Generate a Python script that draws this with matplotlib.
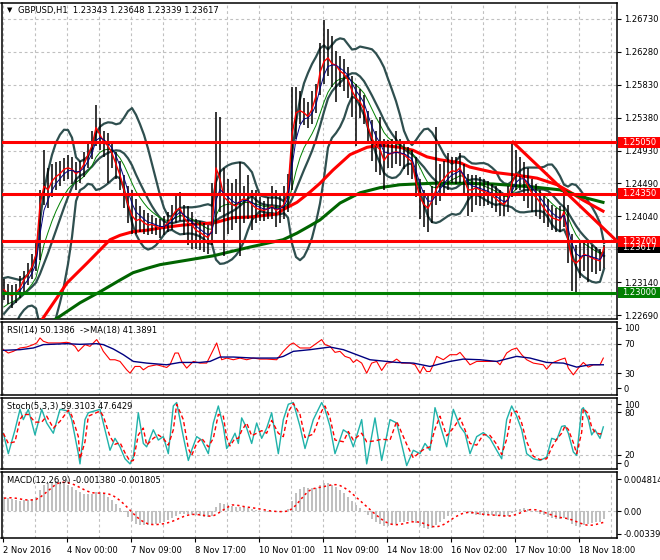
import numpy as np
import pandas as pd
import matplotlib
matplotlib.use('Agg')
import matplotlib.pyplot as plt
from matplotlib.patches import Rectangle

plt.rcParams['font.family'] = ['DejaVu Sans']

# GBPUSD, one value every 2 hours (2 Nov 16:00 .. 18 Nov 18:00)
# a few closes before the window, only used to warm up the indicators
pre_close = [1.2235, 1.2228, 1.2220, 1.2214, 1.2208, 1.2205, 1.2200, 1.2196, 1.2194, 1.2198,
             1.2202, 1.2200, 1.2208, 1.2215, 1.2224, 1.2232, 1.2240, 1.2250, 1.2258, 1.2268,
             1.2276, 1.2285, 1.2295, 1.2302]

close = [1.2304, 1.2298, 1.2296, 1.2300, 1.2306, 1.2318, 1.2325, 1.2335, 1.2352, 1.2420,
         1.2445, 1.2440, 1.2452, 1.2458, 1.2462, 1.2468, 1.2470, 1.2468, 1.2462, 1.2466,
         1.2475, 1.2488, 1.2500, 1.2525, 1.2515, 1.2505, 1.2500, 1.2490, 1.2475, 1.2460,
         1.2440, 1.2420, 1.2405, 1.2398, 1.2400, 1.2395, 1.2392, 1.2393, 1.2390, 1.2388,
         1.2390, 1.2395, 1.2403, 1.2412, 1.2415, 1.2402, 1.2395, 1.2392, 1.2385, 1.2382,
         1.2378, 1.2375, 1.2385, 1.2470, 1.2455, 1.2430, 1.2425, 1.2420, 1.2418, 1.2425,
         1.2428, 1.2425, 1.2420, 1.2415, 1.2413, 1.2412, 1.2414, 1.2418, 1.2412, 1.2415,
         1.2420, 1.2440, 1.2515, 1.2545, 1.2548, 1.2545, 1.2540, 1.2550, 1.2568, 1.2600,
         1.2615, 1.2620, 1.2612, 1.2610, 1.2602, 1.2598, 1.2590, 1.2575, 1.2565, 1.2560,
         1.2550, 1.2525, 1.2510, 1.2500, 1.2495, 1.2480, 1.2488, 1.2490, 1.2492, 1.2490,
         1.2488, 1.2483, 1.2478, 1.2450, 1.2430, 1.2420, 1.2415, 1.2425, 1.2440, 1.2450,
         1.2455, 1.2462, 1.2466, 1.2465, 1.2470, 1.2455, 1.2440, 1.2440, 1.2443, 1.2440,
         1.2438, 1.2436, 1.2432, 1.2428, 1.2423, 1.2420, 1.2428, 1.2450, 1.2462, 1.2460,
         1.2455, 1.2445, 1.2435, 1.2430, 1.2423, 1.2415, 1.2408, 1.2402, 1.2400, 1.2398,
         1.2410, 1.2370, 1.2345, 1.2340, 1.2345, 1.2352, 1.2350, 1.2347, 1.2345, 1.2343,
         1.23617]

high = [1.2318, 1.2312, 1.2310, 1.2312, 1.2322, 1.2330, 1.2340, 1.2352, 1.2372, 1.2440,
        1.2494, 1.2470, 1.2475, 1.2478, 1.2480, 1.2484, 1.2488, 1.2485, 1.2478, 1.2480,
        1.2492, 1.2505, 1.2520, 1.2556, 1.2538, 1.2520, 1.2518, 1.2505, 1.2492, 1.2480,
        1.2460, 1.2445, 1.2440, 1.2428, 1.2418, 1.2412, 1.2408, 1.2406, 1.2402, 1.2400,
        1.2405, 1.2410, 1.2420, 1.2432, 1.2437, 1.2420, 1.2418, 1.2410, 1.2400, 1.2398,
        1.2395, 1.2392, 1.2450, 1.2546, 1.2540, 1.2470, 1.2455, 1.2450, 1.2455, 1.2478,
        1.2445, 1.2460, 1.2440, 1.2440, 1.2430, 1.2425, 1.2430, 1.2445, 1.2440, 1.2432,
        1.2445, 1.2462, 1.2580, 1.2580, 1.2575, 1.2565, 1.2560, 1.2575, 1.2585, 1.2640,
        1.2672, 1.2660, 1.2650, 1.2630, 1.2622, 1.2618, 1.2608, 1.2595, 1.2585, 1.2578,
        1.2570, 1.2548, 1.2535, 1.2520, 1.2540, 1.2510, 1.2508, 1.2510, 1.2520, 1.2510,
        1.2505, 1.2498, 1.2495, 1.2485, 1.2455, 1.2440, 1.2435, 1.2445, 1.2526, 1.2475,
        1.2480, 1.2490, 1.2485, 1.2485, 1.2490, 1.2475, 1.2462, 1.2460, 1.2460, 1.2458,
        1.2455, 1.2452, 1.2448, 1.2445, 1.2440, 1.2435, 1.2445, 1.2504, 1.2495, 1.2485,
        1.2478, 1.2470, 1.2455, 1.2448, 1.2440, 1.2435, 1.2428, 1.2420, 1.2415, 1.2418,
        1.2438, 1.2420, 1.2380, 1.2365, 1.2368, 1.2372, 1.2368, 1.2365, 1.2362, 1.2360,
        1.23648]

low = [1.2290, 1.2284, 1.2279, 1.2286, 1.2292, 1.2300, 1.2310, 1.2318, 1.2330, 1.2345,
       1.2420, 1.2415, 1.2430, 1.2440, 1.2445, 1.2452, 1.2455, 1.2448, 1.2440, 1.2450,
       1.2458, 1.2470, 1.2482, 1.2500, 1.2495, 1.2485, 1.2450, 1.2470, 1.2455, 1.2440,
       1.2415, 1.2395, 1.2380, 1.2380, 1.2382, 1.2380, 1.2378, 1.2380, 1.2378, 1.2375,
       1.2378, 1.2382, 1.2385, 1.2395, 1.2398, 1.2378, 1.2365, 1.2360, 1.2360, 1.2358,
       1.2355, 1.2352, 1.2365, 1.2380, 1.2410, 1.2350, 1.2380, 1.2385, 1.2395, 1.2350,
       1.2395, 1.2400, 1.2385, 1.2395, 1.2398, 1.2398, 1.2400, 1.2400, 1.2390, 1.2395,
       1.2400, 1.2410, 1.2440, 1.2510, 1.2530, 1.2528, 1.2525, 1.2530, 1.2545, 1.2570,
       1.2585, 1.2595, 1.2580, 1.2560, 1.2580, 1.2575, 1.2565, 1.2540, 1.2500, 1.2538,
       1.2530, 1.2505, 1.2480, 1.2465, 1.2460, 1.2440, 1.2470, 1.2470, 1.2475, 1.2472,
       1.2468, 1.2460, 1.2455, 1.2430, 1.2400, 1.2390, 1.2382, 1.2395, 1.2420, 1.2425,
       1.2435, 1.2440, 1.2450, 1.2448, 1.2450, 1.2435, 1.2405, 1.2410, 1.2420, 1.2418,
       1.2418, 1.2420, 1.2415, 1.2410, 1.2405, 1.2405, 1.2410, 1.2430, 1.2440, 1.2440,
       1.2425, 1.2415, 1.2410, 1.2405, 1.2400, 1.2395, 1.2390, 1.2385, 1.2383, 1.2382,
       1.2390, 1.2340, 1.2302, 1.2300, 1.2320, 1.2330, 1.2315, 1.2328, 1.2325, 1.2330,
       1.23339]

# long moving averages read directly (they need history that is off the chart)
red_ma_bar = [7.75, 9.75, 15.75, 20.75, 24, 26.5, 29, 32.25, 35.75, 39, 44.75, 52.25, 53.25,
              57.25, 61.5, 68.25, 69.75, 73.25, 76.5, 79, 82.25, 86.5, 90.75, 94, 99, 102.25,
              105.75, 109, 114, 116.5, 122.25, 128.25, 133.25, 138.25, 141.5, 144.75, 149.75]
red_ma_val = [1.2249, 1.2265, 1.2313, 1.2340, 1.2358, 1.2372, 1.2378, 1.2383, 1.2385, 1.2388,
              1.2392, 1.2395, 1.2396, 1.2402, 1.2403, 1.2407, 1.2413, 1.2423, 1.2437, 1.2449,
              1.2467, 1.2488, 1.2498, 1.2501, 1.2498, 1.2494, 1.2485, 1.2481, 1.2477, 1.2471,
              1.2464, 1.2460, 1.2456, 1.2447, 1.2437, 1.2426, 1.2411]
green_ma_bar = [10.25, 13.25, 19, 24, 29, 32.25, 35.75, 39, 52.25, 61.5, 69.75, 73.25, 76.5,
                79, 84, 89, 94, 99, 107.25, 114, 122.25, 132.25, 139, 144.75, 149.75]
green_ma_val = [1.2254, 1.2265, 1.2286, 1.2301, 1.2317, 1.2327, 1.2333, 1.2338, 1.2350, 1.2362,
                1.2372, 1.2381, 1.2391, 1.2399, 1.2422, 1.2436, 1.2443, 1.2447, 1.2449, 1.2449,
                1.2448, 1.2444, 1.2440, 1.2430, 1.2423]

rsi_bar = [-0.17, 1.08, 2.33, 4.0, 5.67, 7.33, 8.17, 9.0, 9.83, 11.08, 12.33, 14.0, 15.67, 16.5,
           17.75, 18.58, 19.42, 20.25, 21.5, 23.17, 24.0, 24.83, 26.5, 27.75, 29.0, 30.67, 31.5,
           32.75, 34.0, 34.83, 36.08, 38.17, 39.83, 40.67, 41.5, 42.75, 43.58, 44.42, 45.67, 46.5,
           47.33, 49.0, 50.67, 51.92, 53.17, 54.42, 55.67, 57.33, 59.0, 60.67, 62.33, 64.0, 65.67,
           68.17, 69.83, 71.5, 72.33, 74.0, 76.5, 79.42, 80.25, 81.5, 82.75, 84.0, 85.25, 86.5,
           87.33, 88.17, 89.42, 90.67, 91.92, 93.17, 94.42, 95.67, 96.92, 98.17, 99.42, 101.5,
           102.75, 104.0, 104.83, 105.67, 106.5, 107.33, 108.17, 109.83, 111.5, 113.17, 114.0,
           114.83, 116.5, 118.17, 120.67, 123.17, 124.0, 125.67, 126.92, 128.17, 129.42, 130.67,
           132.33, 134.83, 135.67, 136.92, 139.0, 140.25, 141.08, 142.33, 143.58, 144.83, 146.08,
           147.33, 149.0, 149.83]
rsi_val = [62.1, 57.5, 59.8, 64.4, 65.7, 69.0, 71.3, 78.2, 73.6, 71.3, 71.3, 71.3, 72.2, 71.3,
           66.7, 59.8, 64.4, 69.0, 66.7, 75.9, 69.0, 59.8, 48.3, 48.3, 46.0, 34.5, 29.9,
           39.1, 39.1, 34.5, 39.1, 41.4, 39.1, 37.7, 41.4, 57.5, 57.5, 46.0, 36.8, 41.4,
           46.0, 43.7, 43.7, 57.5, 71.3, 48.3, 50.6, 48.3, 50.6, 48.3, 50.6, 49.2, 49.2,
           48.3, 59.8, 69.0, 71.3, 64.4, 64.4, 75.9, 69.0, 66.7, 58.4, 59.8, 52.9, 50.6,
           44.6, 48.3, 43.7, 29.9, 43.7, 46.0, 33.6, 43.7, 44.6, 49.2, 43.7, 43.7,
           41.4, 29.9, 39.1, 32.2, 32.2, 41.4, 52.9, 48.3, 55.2, 55.2, 58.4,
           52.9, 41.4, 46.0, 46.0, 46.0, 41.4, 57.5, 62.1, 64.4, 55.2, 48.3,
           43.7, 41.4, 35.4, 43.7, 48.3, 50.6, 36.8, 27.6, 36.8, 44.6, 38.2,
           41.4, 41.4, 50.6]
rsi_ma_bar = [-0.17, 4.0, 7.33, 9.83, 15.67, 19.0, 23.17, 24.83, 27.33, 29.83, 32.33, 35.67,
              40.67, 44.0, 49.0, 51.5, 54.0, 57.33, 62.33, 68.17, 69.83, 72.33, 76.5, 81.5, 84.83,
              88.17, 91.5, 98.17, 102.33, 106.5, 111.5, 114.83, 119.0, 123.17, 128.17, 131.5,
              135.67, 139.83, 143.17, 146.5, 149.83]
rsi_ma_val = [61.2, 62.1, 64.4, 69.0, 70.3, 69.4, 70.3, 69.0, 63.0, 55.2, 46.0, 43.7,
              41.4, 44.6, 44.6, 46.0, 52.0, 52.0, 50.6, 50.6, 52.9, 59.8, 62.1, 65.7, 62.1,
              55.2, 48.3, 44.6, 43.7, 39.1, 46.0, 49.2, 48.3, 46.0, 52.9, 50.6,
              44.6, 43.7, 38.2, 41.4, 41.4]

# Stochastic(5,3,3) main line (bar position, value)
st_bar = [-0.17, 1.08, 2.75, 4.0, 4.83, 6.08, 7.75, 9.42, 10.67, 12.33, 14.0, 16.08, 16.92, 18.58,
          19.0, 20.25, 21.08, 24.0, 24.83, 26.5, 27.75, 29.0, 30.25, 31.5, 32.33, 33.58, 34.83,
          35.67, 37.33, 38.58, 39.83, 41.08, 42.33, 43.17, 44.83, 46.08, 46.92, 48.17, 49.42,
          51.08, 52.33, 53.58, 54.83, 55.67, 56.5, 57.75, 58.58, 59.42, 60.67, 61.92, 63.17,
          64.42, 65.67, 66.92, 68.58, 69.83, 71.08, 72.33, 74.0, 75.25, 77.33, 79.42, 80.25,
          81.5, 82.75, 84.83, 86.08, 87.33, 89.42, 90.67, 92.75, 94.42, 96.5, 98.17, 100.67,
          102.33, 104.0, 105.25, 106.5, 107.75, 109.0, 110.67, 112.33, 114.0, 115.25, 116.5,
          118.17, 119.83, 121.5, 123.17, 124.42, 125.67, 126.92, 128.17, 129.42, 130.67, 132.33,
          134.0, 135.67, 136.92, 138.17, 139.42, 140.25, 141.08, 142.33, 143.17, 144.42, 144.83,
          146.08, 146.92, 147.75, 149.0, 149.83]
st_val = [50.4, 21.6, 55.2, 84.0, 69.6, 84.0, 48.0, 84.0, 64.8, 50.4, 84.0, 81.6, 69.6, 21.6,
          7.2, 69.6, 79.2, 84.0, 64.8, 26.4, 43.2, 31.2, 14.4, 7.2, 16.8, 79.2, 36.0,
          31.2, 55.2, 40.8, 45.6, 21.6, 88.8, 93.6, 45.6, 12.0, 26.4, 45.6, 40.8,
          21.6, 64.8, 88.8, 60.0, 28.8, 36.0, 50.4, 36.0, 72.0, 57.6, 36.0, 64.8,
          43.2, 57.6, 79.2, 21.6, 69.6, 91.2, 93.6, 60.0, 28.8, 69.6, 93.6, 84.0,
          60.0, 21.6, 55.2, 50.4, 31.2, 69.6, 7.2, 72.0, 12.0, 69.6, 64.8, 4.8,
          26.4, 21.6, 36.0, 26.4, 86.4, 62.4, 31.2, 84.0, 60.0, 50.4, 21.6,
          45.6, 51.3, 43.2, 26.4, 14.4, 69.6, 88.8, 74.4, 55.2, 21.6, 14.4,
          12.0, 16.8, 43.2, 40.8, 60.0, 61.0, 50.4, 24.0, 19.2, 84.0, 86.4,
          69.6, 48.0, 55.2, 43.2, 59.3]

red_levels = [1.2505, 1.2435, 1.2370]
green_level = 1.2300
bid = 1.23617
trend_bar = [127.25, 153.25]
trend_val = [1.2505, 1.2370]

price_ticks = [1.26730, 1.26280, 1.25830, 1.25380, 1.24930, 1.24490, 1.24040, 1.23590, 1.23140, 1.22690]
date_labels = ['2 Nov 2016', '4 Nov 00:00', '7 Nov 09:00', '8 Nov 17:00', '10 Nov 01:00',
               '11 Nov 09:00', '14 Nov 18:00', '16 Nov 02:00', '17 Nov 10:00', '18 Nov 18:00']

# ---- indicators from the closes (periods halved because one step = 2 hours) ----
n0 = len(pre_close)
allc = pd.Series(pre_close + close)
mid = allc.rolling(10).mean()
sd = allc.rolling(10).std(ddof=0)
bb_mid = mid[n0:].to_numpy()
bb_up = (mid + 2 * sd)[n0:].to_numpy()
bb_dn = (mid - 2 * sd)[n0:].to_numpy()
ma_fast = allc.ewm(span=3, adjust=False).mean()[n0:].to_numpy()
ma_slow = allc.ewm(span=8, adjust=False).mean()[n0:].to_numpy()

macd_all = allc.ewm(span=6, adjust=False).mean() - allc.ewm(span=13, adjust=False).mean()
macd_sig = macd_all.rolling(5).mean()[n0:].to_numpy()
macd = macd_all[n0:].to_numpy()

st_sig = pd.Series(st_val).rolling(2, min_periods=1).mean()

x = np.arange(len(close))

# ---- layout, in pixels of a 660x560 picture ----
W, H = 660, 560
fig = plt.figure(figsize=(6.6, 5.6), dpi=100)


def panel(top, bottom):
    return fig.add_axes([1.5 / W, 1 - bottom / H, (617 - 1.5) / W, (bottom - top) / H])


ax = panel(3, 319)
ax_rsi = panel(322, 395)
ax_st = panel(398, 469)
ax_macd = panel(472, 538)

grid_kw = dict(color='#c0c0c0', lw=0.8, ls=(0, (2.5, 2.5)), zorder=0)
for a in (ax, ax_rsi, ax_st, ax_macd):
    a.set_xlim(-0.625, 153.25)
    for g in np.arange(-0.25, 153, 8):
        a.axvline(g, **grid_kw)
    for s in a.spines.values():
        s.set_linewidth(1.1)
    a.yaxis.tick_right()
    a.tick_params(axis='y', direction='out', length=3, width=0.8, labelsize=6, pad=2)
    a.tick_params(axis='x', bottom=False, labelbottom=False)

# main price chart
ax.set_ylim(1.22639, 1.26948)
for p in price_ticks:
    ax.axhline(p, **grid_kw)
ax.set_yticks(price_ticks)
ax.set_yticklabels(['%.5f' % p for p in price_ticks])
ax.axhline(bid, color='#c0c0c0', lw=0.9, zorder=1)

ax.plot(x, bb_up, color='#2f4f4f', lw=1.6, zorder=2)
ax.plot(x, bb_mid, color='#2f4f4f', lw=1.6, zorder=2)
ax.plot(x, bb_dn, color='#2f4f4f', lw=1.6, zorder=2)
ax.plot(red_ma_bar, red_ma_val, color='red', lw=2.2, zorder=3)
ax.plot(green_ma_bar, green_ma_val, color='#006400', lw=2.2, zorder=3)
ax.plot(x, ma_slow, color='green', lw=0.7, zorder=4)
ax.vlines(x, low, high, color='black', lw=1.1, zorder=5)
ax.plot(x, close, color='red', lw=1.0, zorder=6)
ax.plot(x, ma_fast, color='#000080', lw=0.7, zorder=6)

for lv in red_levels:
    ax.axhline(lv, color='red', lw=2.2, zorder=7)
ax.axhline(green_level, color='green', lw=2.2, zorder=7)
ax.plot(trend_bar, trend_val, color='red', lw=2.2, zorder=7, clip_on=False)

# price boxes on the right scale
ytr = ax.get_yaxis_transform()
bw = (W - 618) / (617 - 1.5)
bh = 11 * (1.26948 - 1.22639) / 316
for val, fc in [(bid, 'black'), (1.2505, 'red'), (1.2435, 'red'), (1.2370, 'red'), (1.2300, 'green')]:
    ax.add_patch(Rectangle((1.002, val - bh / 2), bw, bh, transform=ytr, facecolor=fc,
                           edgecolor='none', clip_on=False, zorder=10))
    ax.text(1.008, val, '%.5f' % val, transform=ytr, color='white', fontsize=6, va='center',
            ha='left', zorder=11, clip_on=False)

# RSI
ax_rsi.set_ylim(0, 100)
for v in (70, 30):
    ax_rsi.axhline(v, **grid_kw)
ax_rsi.plot(rsi_bar, rsi_val, color='red', lw=0.8)
ax_rsi.plot(rsi_ma_bar, rsi_ma_val, color='#000080', lw=1.0)
ax_rsi.set_yticks([92, 70, 30, 9])
ax_rsi.set_yticklabels(['100', '70', '30', '0'])

# Stochastic
ax_st.set_ylim(0, 100)
for v in (80, 20):
    ax_st.axhline(v, **grid_kw)
ax_st.plot(st_bar, st_val, color='#20b2aa', lw=1.0)
ax_st.plot(st_bar, st_sig, color='red', lw=1.0, ls=(0, (3, 2)))
ax_st.set_yticks([91, 80, 20, 8])
ax_st.set_yticklabels(['100', '80', '20', '0'])

# MACD
ax_macd.set_ylim(-0.00404, 0.00587)
ax_macd.axhline(0, **grid_kw)
ax_macd.bar(x, macd, width=0.45, color='#c0c0c0', zorder=2)
ax_macd.plot(x, macd_sig, color='red', lw=1.1, ls=(0, (1.5, 2)), zorder=3)
ax_macd.set_yticks([0.004814, 0.0, -0.003396])
ax_macd.set_yticklabels(['0.004814', '0.00', '-0.003396'])

ax_macd.tick_params(axis='x', bottom=True, labelbottom=True, direction='out', length=3,
                    width=0.8, labelsize=6, pad=3)
ax_macd.set_xticks(np.arange(-0.25, 150, 16)[:len(date_labels)])
ax_macd.set_xticklabels(date_labels, ha='left')

# captions
fig.text(7 / W, 1 - 10.5 / H, '\u25bc', fontsize=5, va='center')
fig.text(18 / W, 1 - 10.5 / H, 'GBPUSD,H1  1.23343 1.23648 1.23339 1.23617', fontsize=6, va='center')
fig.text(7 / W, 1 - 330.5 / H, 'RSI(14) 50.1386  ->MA(18) 41.3891', fontsize=6, va='center')
fig.text(7 / W, 1 - 407 / H, 'Stoch(5,3,3) 59.3103 47.6429', fontsize=6, va='center')
fig.text(7 / W, 1 - 481 / H, 'MACD(12,26,9) -0.001380 -0.001805', fontsize=6, va='center')

fig.savefig('out.png', dpi=100)
